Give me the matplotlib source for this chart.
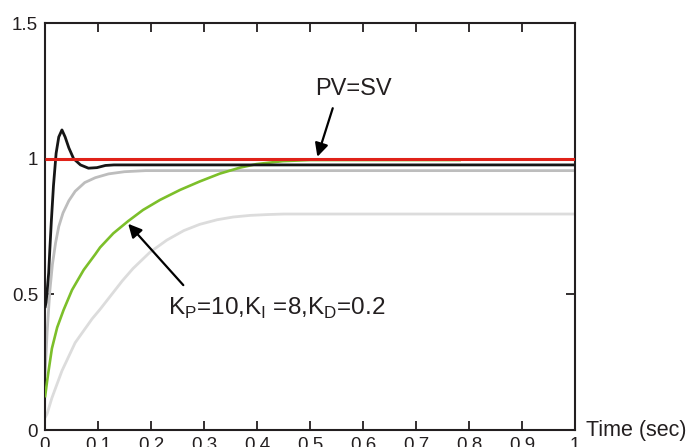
import matplotlib
matplotlib.use("Agg")
import matplotlib.pyplot as plt

plt.rcParams["font.family"] = ["Liberation Sans", "DejaVu Sans"]
plt.rcParams["mathtext.fontset"] = "custom"
plt.rcParams["mathtext.rm"] = "Liberation Sans"

INK = "#231f20"

# step responses (time in s, output)
t_sv = [0.0, 1.0]
v_sv = [1.0, 1.0]

t_pid = [0.0, 0.002, 0.004, 0.007, 0.009, 0.012, 0.016, 0.021, 0.026, 0.032,
         0.038, 0.045, 0.054, 0.067, 0.082, 0.098, 0.114, 0.13, 1.0]
v_pid = [0.45, 0.47, 0.51, 0.58, 0.66, 0.77, 0.90, 1.02, 1.08, 1.106,
         1.08, 1.04, 1.00, 0.977, 0.965, 0.967, 0.975, 0.977, 0.977]

t_gray = [0.0, 0.004, 0.009, 0.014, 0.020, 0.026, 0.034, 0.045, 0.057, 0.075,
          0.095, 0.12, 0.15, 0.19, 1.0]
v_gray = [0.20, 0.36, 0.51, 0.61, 0.69, 0.75, 0.80, 0.845, 0.88, 0.912,
          0.93, 0.944, 0.952, 0.956, 0.956]

t_green = [0.0, 0.004, 0.007, 0.013, 0.023, 0.035, 0.051, 0.073, 0.095, 0.104,
           0.129, 0.157, 0.185, 0.217, 0.255, 0.292, 0.330, 0.368, 0.399,
           0.449, 0.5, 0.785]
v_green = [0.12, 0.18, 0.221, 0.300, 0.378, 0.442, 0.516, 0.59, 0.648, 0.673,
           0.725, 0.770, 0.811, 0.848, 0.885, 0.916, 0.945, 0.967, 0.980,
           0.991, 0.995, 0.995]

t_light = [0.0, 0.004, 0.013, 0.032, 0.057, 0.089, 0.104, 0.126, 0.146, 0.166,
           0.198, 0.230, 0.262, 0.292, 0.325, 0.355, 0.387, 0.419, 0.45, 1.0]
v_light = [0.045, 0.06, 0.118, 0.218, 0.322, 0.41, 0.445, 0.50, 0.55, 0.595,
           0.655, 0.70, 0.735, 0.758, 0.775, 0.785, 0.791, 0.794, 0.796, 0.796]

x_ticks = [0, 0.1, 0.2, 0.3, 0.4, 0.5, 0.6, 0.7, 0.8, 0.9, 1]
x_labels = ["0", "0.1", "0.2", "0.3", "0.4", "0.5", "0.6", "0.7", "0.8", "0.9", "1"]
y_ticks = [0, 0.5, 1, 1.5]
y_labels = ["0", "0.5", "1", "1.5"]

fig = plt.figure(figsize=(6.9, 4.47), dpi=100)
ax = fig.add_axes([0.0652, 0.038, 0.768, 0.9105])

kw = dict(solid_joinstyle="round", solid_capstyle="butt")
ax.plot(t_light, v_light, color="#dcdcdc", lw=2.0, zorder=2, **kw)
ax.plot(t_gray, v_gray, color="#bdbdbd", lw=2.0, zorder=2, **kw)
ax.plot(t_green, v_green, color="#7cbf2a", lw=1.9, zorder=3, **kw)
ax.plot(t_pid, v_pid, color="#161616", lw=2.0, zorder=4, **kw)
ax.plot(t_sv, v_sv, color="#e02219", lw=2.2, zorder=5, **kw)

ax.set_xlim(0, 1)
ax.set_ylim(0, 1.5)
ax.set_xticks(x_ticks)
ax.set_xticklabels(x_labels)
ax.set_yticks(y_ticks)
ax.set_yticklabels(y_labels)
ax.tick_params(direction="in", length=6.5, width=1.3, colors=INK,
               labelsize=13.5, top=True, right=True, pad=5)
for s in ax.spines.values():
    s.set_linewidth(1.5)
    s.set_color(INK)

ax.text(1.02, 0, "Time (sec)", transform=ax.transAxes, ha="left",
        va="center", fontsize=15.5, color=INK)

arrow = dict(arrowstyle="-|>", mutation_scale=20, lw=1.6, color="k",
             shrinkA=0, shrinkB=0)
ax.annotate("", xy=(0.514, 1.007), xytext=(0.543, 1.186), arrowprops=arrow,
            zorder=6)
ax.text(0.582, 1.256, "PV=SV", ha="center", va="center", fontsize=17,
        color=INK)

ax.annotate("", xy=(0.157, 0.76), xytext=(0.261, 0.534), arrowprops=arrow,
            zorder=6)
ax.text(0.232, 0.424,
        r"K$_\mathregular{P}$=10,K$_\mathregular{I}$ =8,K$_\mathregular{D}$=0.2",
        ha="left", va="baseline", fontsize=17.5, color=INK)

fig.savefig("out.png", dpi=100)
